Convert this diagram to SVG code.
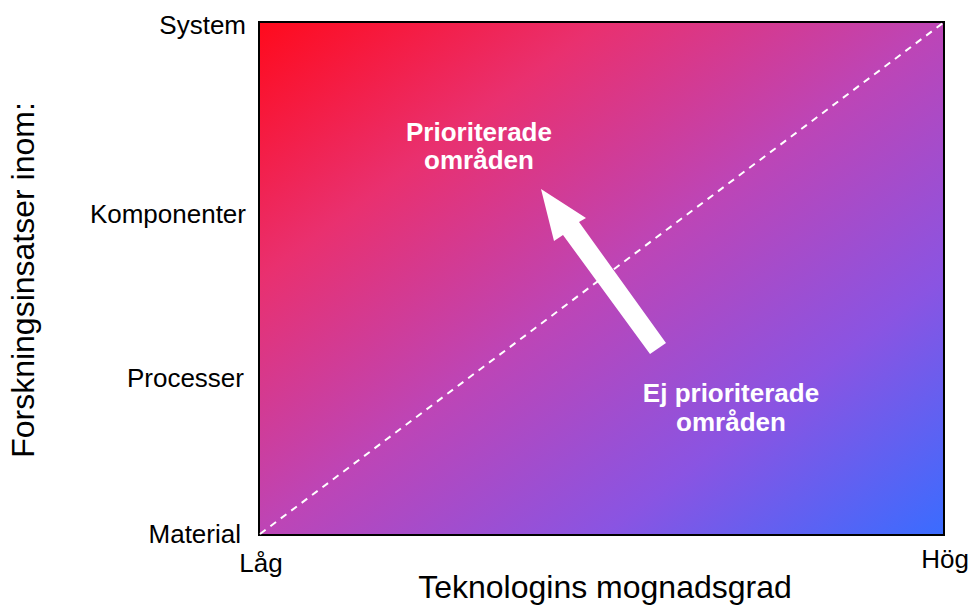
<svg xmlns="http://www.w3.org/2000/svg" width="971" height="606" viewBox="0 0 971 606">
  <defs>
    <linearGradient id="bg" x1="0" y1="0" x2="1" y2="1">
      <stop offset="0" stop-color="#ff0a1c"/>
      <stop offset="0.25" stop-color="#e9306f"/>
      <stop offset="0.5" stop-color="#bd45b6"/>
      <stop offset="0.75" stop-color="#8a54e2"/>
      <stop offset="1" stop-color="#3a6cff"/>
    </linearGradient>
    <style>
      .tick { font-family: "Liberation Sans", Arial, sans-serif; font-size: 26px; fill: #000; }
      .title { font-family: "Liberation Sans", Arial, sans-serif; font-size: 32px; fill: #000; }
      .lbl { font-family: "Liberation Sans", Arial, sans-serif; font-size: 26px; font-weight: bold; fill: #fff; text-anchor: middle; }
    </style>
  </defs>
  <rect width="971" height="606" fill="#fff"/>
  <g id="plot">
    <rect x="259" y="22" width="685" height="513" fill="url(#bg)" stroke="#000" stroke-width="2"/>
  </g>
  <g id="connectors">
    <line x1="260" y1="534" x2="943" y2="23" stroke="#fff" stroke-width="2" stroke-dasharray="7,6"/>
    <polygon points="541,189 586,218 579,222 666,343 650,354 563,235 554,241" fill="#fff"/>
  </g>
  <g id="ylabels">
    <text class="tick" x="246" y="34" text-anchor="end">System</text>
    <text class="tick" x="246" y="223" text-anchor="end">Komponenter</text>
    <text class="tick" x="244" y="387" text-anchor="end">Processer</text>
    <text class="tick" x="241" y="543" text-anchor="end">Material</text>
  </g>
  <g id="xlabels">
    <text class="tick" x="261" y="572" text-anchor="middle">Låg</text>
    <text class="tick" x="945" y="568" text-anchor="middle">Hög</text>
  </g>
  <g id="titles">
    <text class="title" x="605" y="598" text-anchor="middle">Teknologins mognadsgrad</text>
    <text class="title" transform="translate(34,280) rotate(-90)" text-anchor="middle">Forskningsinsatser inom:</text>
  </g>
  <g id="prio">
    <text class="lbl" x="479" y="141">Prioriterade</text>
    <text class="lbl" x="479" y="169">områden</text>
  </g>
  <g id="ejprio">
    <text class="lbl" x="731" y="402">Ej prioriterade</text>
    <text class="lbl" x="731" y="431">områden</text>
  </g>
</svg>
